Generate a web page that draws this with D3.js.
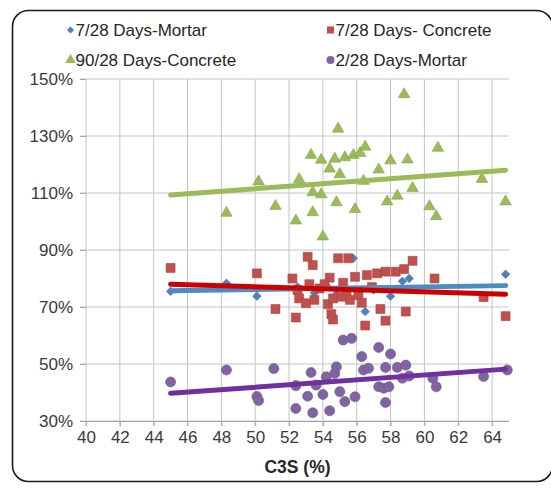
<!DOCTYPE html>
<html><head><meta charset="utf-8">
<script src="https://cdn.jsdelivr.net/npm/d3@7"></script>
<style>html,body{margin:0;padding:0;background:#fff;}svg{display:block;}
svg text{font-family:"Liberation Serif","Times New Roman","Liberation Sans",Arial,sans-serif;}
</style>
</head><body>
<svg id="chart" width="551" height="490"></svg>
<script>
// ---- data ----
const seriesNames = ["7/28 Days-Mortar", "7/28 Days- Concrete", "90/28 Days-Concrete", "2/28 Days-Mortar"];
const xTicks = [40,42,44,46,48,50,52,54,56,58,60,62,64];
const yTicks = [30,50,70,90,110,130,150];

const mortar7 = [[45.0,75.5],[48.3,78.3],[50.1,73.8],[52.5,77],[53.5,75],[54.2,77.5],[54.8,74.5],[55.8,87.1],[56.5,68.4],[57.0,76],[58.0,73.8],[58.7,79],[59.1,80],[63.5,73.3],[64.8,81.5]];
const concrete7 = [[45.0,83.7],[50.1,81.8],[51.2,69.3],[52.2,80],[52.4,66.3],[52.5,76],[52.6,73],[53.0,71.3],[53.1,87.6],[53.2,78],[53.4,84.7],[53.5,72.5],[53.8,76.5],[54.1,78],[54.3,71],[54.4,80.3],[54.5,67.5],[54.6,73],[54.6,65.6],[54.9,87.1],[55.1,73.6],[55.2,78.5],[55.4,75.5],[55.5,87.1],[55.6,72.5],[55.9,80.6],[56.1,74.2],[56.3,71.5],[56.5,63.5],[56.6,81.2],[56.9,77],[57.2,81.8],[57.4,69.3],[57.7,82.4],[57.7,65.2],[58.3,82.4],[58.8,83.3],[58.9,68.4],[59.3,86.2],[60.6,80],[63.5,73.5],[64.8,66.8]];
const concrete90 = [[48.3,103],[50.2,114],[51.2,105.4],[52.4,100.3],[52.6,114.8],[53.3,123.3],[53.4,103.2],[53.4,110.2],[53.9,109.5],[53.9,121.6],[54.0,94.7],[54.4,118.5],[54.7,122],[54.8,106.7],[54.9,132.5],[55.0,116.5],[55.3,122.5],[55.8,123.3],[55.9,104.3],[56.2,124],[56.4,114.2],[56.5,126.2],[57.3,118.2],[57.8,107],[58.0,121.4],[58.4,109],[58.8,144.6],[59.0,121.7],[59.3,111.7],[60.3,105.3],[60.7,101.8],[60.8,125.8],[63.4,114.9],[64.8,107]];
const mortar2 = [[45.0,43.7],[48.3,47.9],[50.1,38.6],[50.2,37.2],[51.1,48.4],[52.4,42.4],[52.4,34.4],[53.1,38.7],[53.4,32.9],[53.3,47],[53.6,42.6],[54.0,39.3],[54.4,33.6],[54.2,45.5],[54.7,46.7],[54.8,49],[55.0,40.3],[55.3,36.8],[55.2,58.4],[55.7,59],[55.9,38.5],[56.3,52.6],[56.4,47.9],[56.7,48.5],[57.3,55.8],[58.0,53.5],[57.3,42],[57.6,41.5],[57.9,42],[57.7,36.5],[57.7,48.8],[58.4,48.8],[58.9,49.6],[58.7,45],[59.1,45.8],[60.5,45],[60.7,42],[63.5,45.6],[64.9,47.9]];

// linear trend lines (end values)
const trendX = [45, 64.8];
const trendMortar7 = [75.7, 77.5];
const trendConcrete7 = [78.0, 74.5];
const trendConcrete90 = [109.3, 118.0];
const trendMortar2 = [39.7, 48.2];

// ---- drawing ----
const svg = d3.select("#chart");
const x = d3.scaleLinear().domain([40,65]).range([86,509]);
const y = d3.scaleLinear().domain([30,150]).range([421,79]);
const font = '"Liberation Sans",Arial,sans-serif';

// outer rounded frame
svg.append("rect").attr("x",12.5).attr("y",10.5).attr("width",540).attr("height",471)
  .attr("rx",16).attr("fill","#fff").attr("stroke","#1a1a1a").attr("stroke-width",1.6);

// gridlines
const grid = svg.append("g");
grid.selectAll("line.h").data(yTicks).join("line")
  .attr("x1",x(40)-6).attr("x2",x(65)).attr("y1",d=>y(d)).attr("y2",d=>y(d))
  .attr("stroke","#c4c4c4").attr("stroke-width",1);
grid.selectAll("line.v").data(xTicks).join("line")
  .attr("x1",d=>x(d)).attr("x2",d=>x(d)).attr("y1",y(150)).attr("y2",y(30)+5)
  .attr("stroke","#c4c4c4").attr("stroke-width",1);

// axes
const xAxis = svg.append("g").attr("transform",`translate(0,${y(30)})`)
  .call(d3.axisBottom(x).tickValues(xTicks).tickSize(5).tickPadding(5).tickFormat(d3.format("d")));
const yAxis = svg.append("g").attr("transform",`translate(${x(40)},0)`)
  .call(d3.axisLeft(y).tickValues(yTicks).tickSize(6).tickPadding(7).tickFormat(d=>d+"%"));
[xAxis,yAxis].forEach(a=>{
  a.attr("font-family",null);
  a.select(".domain").attr("stroke","#a6a6a6");
  a.selectAll(".tick line").attr("stroke","#a6a6a6");
  a.selectAll("text").style("font-family",font).attr("font-size",17).attr("fill","#3a3a3a");
});
yAxis.select(".domain").remove();
xAxis.select(".domain").attr("d",`M${x(40)-6},0.5H${x(65)}`);

// axis title
svg.append("text").attr("x",(x(40)+x(65))/2).attr("y",473).attr("text-anchor","middle")
  .style("font-family",font).attr("font-size",17.5).attr("font-weight","bold").attr("fill","#262626")
  .text("C3S (%)");

const colors = {m7:"#4F81BD", c7:"#C0504D", c90:"#9BBB59", m2:"#8064A2"};
const symDiamond = d3.symbol().type(d3.symbolSquare).size(36);
const symSquare = d3.symbol().type(d3.symbolSquare).size(80);
const symTri = d3.symbol().type(d3.symbolTriangle).size(58);
const symCircle = d3.symbol().type(d3.symbolCircle).size(80);

function drawPoints(data, sym, color, rot){
  svg.append("g").selectAll("path").data(data).join("path")
    .attr("d", sym())
    .attr("transform", d=>`translate(${x(d[0])},${y(d[1])})${rot?" rotate(45)":""}`)
    .attr("fill", color).attr("stroke", d3.color(color).darker(0.4)).attr("stroke-width",0.6);
}
drawPoints(mortar7, symDiamond, colors.m7, true);
drawPoints(concrete7, symSquare, colors.c7, false);
drawPoints(concrete90, symTri, colors.c90, false);
drawPoints(mortar2, symCircle, colors.m2, false);

function drawTrend(vals, color){
  svg.append("line").attr("x1",x(trendX[0])).attr("x2",x(trendX[1]))
    .attr("y1",y(vals[0])).attr("y2",y(vals[1]))
    .attr("stroke",color).attr("stroke-width",5).attr("stroke-linecap","round");
}
drawTrend(trendConcrete90, "#9BBB59");
drawTrend(trendMortar7, "#4A8CC4");
drawTrend(trendConcrete7, "#CC0000");
drawTrend(trendMortar2, "#7030A0");

// legend
const legend = [
  {name:seriesNames[0], sym:symDiamond, color:colors.m7, rot:true, lx:70.5, ly:30},
  {name:seriesNames[1], sym:symSquare, color:colors.c7, rot:false, lx:330.5, ly:30},
  {name:seriesNames[2], sym:symTri, color:colors.c90, rot:false, lx:70.5, ly:60},
  {name:seriesNames[3], sym:symCircle, color:colors.m2, rot:false, lx:330.5, ly:60}
];
const lg = svg.append("g").selectAll("g").data(legend).join("g")
  .attr("transform", d=>`translate(${d.lx},${d.ly})`);
lg.append("path").attr("d", d=>d.sym.size(d.rot?26:50)())
  .attr("transform", d=>d.rot?"rotate(45)":null).attr("fill", d=>d.color);
lg.append("text").attr("x",5).attr("y",0).attr("dy","0.35em")
  .style("font-family",font).attr("font-size",17).attr("fill","#262626")
  .text(d=>d.name);
</script>
</body></html>
